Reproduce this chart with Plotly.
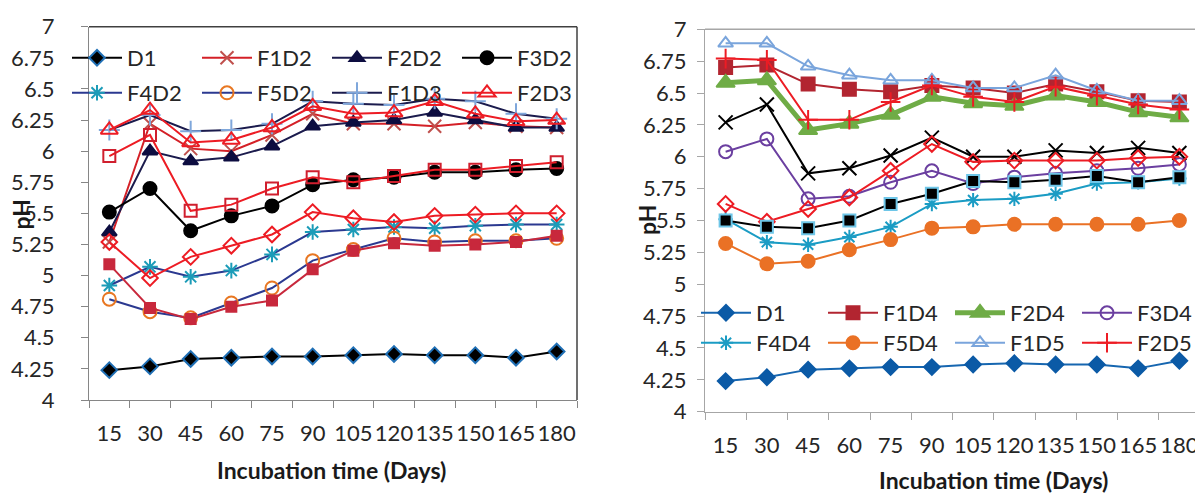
import plotly.graph_objects as go

# ---------------- data ----------------
days = ["15", "30", "45", "60", "75", "90", "105", "120", "135", "150", "165", "180"]
y_tick_vals = [4, 4.25, 4.5, 4.75, 5, 5.25, 5.5, 5.75, 6, 6.25, 6.5, 6.75, 7]
y_tick_text = ["4", "4.25", "4.5", "4.75", "5", "5.25", "5.5", "5.75", "6", "6.25", "6.5", "6.75", "7"]

# left panel (D1, D2, D3)
L_D1 = [4.24, 4.27, 4.33, 4.34, 4.35, 4.35, 4.36, 4.37, 4.36, 4.36, 4.34, 4.39]
L_F1D2 = [5.27, 6.22, 6.02, 6.00, 6.13, 6.30, 6.22, 6.22, 6.20, 6.23, 6.20, 6.19]
L_F2D2 = [5.35, 6.00, 5.92, 5.95, 6.04, 6.20, 6.23, 6.25, 6.31, 6.25, 6.19, 6.19]
L_F3D2 = [5.51, 5.70, 5.36, 5.48, 5.56, 5.73, 5.77, 5.79, 5.83, 5.83, 5.85, 5.86]
L_F4D2 = [4.92, 5.07, 4.99, 5.04, 5.17, 5.35, 5.37, 5.39, 5.38, 5.40, 5.41, 5.41]
L_F5D2 = [4.81, 4.71, 4.66, 4.78, 4.90, 5.12, 5.21, 5.30, 5.27, 5.28, 5.28, 5.30]
L_F1D3 = [6.17, 6.29, 6.16, 6.17, 6.22, 6.40, 6.38, 6.37, 6.42, 6.40, 6.30, 6.26]
L_F2D3 = [6.17, 6.33, 6.07, 6.09, 6.19, 6.36, 6.30, 6.31, 6.40, 6.30, 6.24, 6.25]
L_F3D3 = [5.96, 6.13, 5.52, 5.57, 5.70, 5.79, 5.75, 5.80, 5.85, 5.85, 5.88, 5.91]
L_F4D3 = [5.27, 4.98, 5.15, 5.24, 5.33, 5.51, 5.46, 5.43, 5.48, 5.49, 5.50, 5.50]
L_F5D3 = [5.09, 4.74, 4.65, 4.75, 4.80, 5.05, 5.20, 5.26, 5.24, 5.25, 5.27, 5.32]

# right panel (D1, D4, D5)
R_D1 = [4.24, 4.27, 4.33, 4.34, 4.35, 4.35, 4.37, 4.38, 4.37, 4.37, 4.34, 4.40]
R_F1D4 = [6.70, 6.72, 6.57, 6.53, 6.51, 6.56, 6.54, 6.50, 6.57, 6.51, 6.44, 6.43]
R_F2D4 = [6.58, 6.60, 6.21, 6.26, 6.33, 6.47, 6.42, 6.40, 6.48, 6.43, 6.35, 6.31]
R_F3D4 = [6.04, 6.14, 5.67, 5.69, 5.80, 5.89, 5.79, 5.84, 5.87, 5.89, 5.91, 5.94]
R_F4D4 = [5.51, 5.33, 5.31, 5.37, 5.45, 5.63, 5.66, 5.67, 5.71, 5.79, 5.80, 5.83]
R_F5D4 = [5.32, 5.16, 5.18, 5.27, 5.35, 5.44, 5.45, 5.47, 5.47, 5.47, 5.47, 5.50]
R_F1D5 = [6.89, 6.89, 6.71, 6.64, 6.60, 6.60, 6.54, 6.54, 6.64, 6.52, 6.44, 6.44]
R_F2D5 = [6.77, 6.76, 6.29, 6.29, 6.43, 6.56, 6.47, 6.43, 6.55, 6.48, 6.41, 6.37]
R_F3D5 = [6.27, 6.41, 5.87, 5.91, 6.01, 6.15, 6.00, 6.00, 6.05, 6.03, 6.07, 6.03]
R_F4D5 = [5.63, 5.49, 5.59, 5.68, 5.89, 6.10, 5.96, 5.97, 5.97, 5.97, 5.99, 6.00]
R_F5D5 = [5.50, 5.45, 5.44, 5.50, 5.63, 5.71, 5.81, 5.80, 5.82, 5.85, 5.80, 5.84]

FONT = "Lato"
fig = go.Figure()


def add(name, y, xa, ya, legend, show, lcolor, symbol, mcolor, msize,
        mline=None, lw=2, mlw=2):
    mk = dict(symbol=symbol, color=mcolor, size=msize,
              line=dict(color=mline if mline else mcolor, width=mlw))
    fig.add_trace(go.Scatter(
        x=days, y=y, name=name, mode="lines+markers",
        xaxis=xa, yaxis=ya, legend=legend, showlegend=show,
        line=dict(color=lcolor, width=lw), marker=mk))


# left panel traces
add("D1", L_D1, "x", "y", "legend", True, "#000000", "diamond", "#000000", 12, "#1F6FB5")
add("F1D2", L_F1D2, "x", "y", "legend", True, "#D42027", "x-thin-open", "#C0504D", 13)
add("F2D2", L_F2D2, "x", "y", "legend", True, "#1B1B4D", "triangle-up", "#0D0D40", 13)
add("F3D2", L_F3D2, "x", "y", "legend", True, "#000000", "circle", "#000000", 13)
add("F4D2", L_F4D2, "x", "y", "legend2", True, "#2B3990", "asterisk-open", "#1C9CB8", 13)
add("F5D2", L_F5D2, "x", "y", "legend2", True, "#2B3990", "circle-open", "#E87722", 13)
add("F1D3", L_F1D3, "x", "y", "legend2", True, "#1B1B4D", "cross-thin-open", "#7FA7DB", 15)
add("F2D3", L_F2D3, "x", "y", "legend2", True, "#ED1C24", "triangle-up-open", "#ED1C24", 15)
add("F3D3", L_F3D3, "x", "y", "legend", False, "#ED1C24", "square-open", "#D01F2E", 12)
add("F4D3", L_F4D3, "x", "y", "legend", False, "#ED1C24", "diamond-open", "#ED1C24", 12)
add("F5D3", L_F5D3, "x", "y", "legend", False, "#C8283C", "square", "#C8283C", 10)

# right panel traces
add("D1", R_D1, "x2", "y2", "legend3", True, "#1666B0", "diamond", "#0B5AA6", 12)
add("F1D4", R_F1D4, "x2", "y2", "legend3", True, "#B22530", "square", "#B22530", 13)
add("F2D4", R_F2D4, "x2", "y2", "legend3", True, "#6FAC46", "triangle-up", "#6FAC46", 16, lw=5)
add("F3D4", R_F3D4, "x2", "y2", "legend3", True, "#6B3FA0", "circle-open", "#6B3FA0", 13)
add("F4D4", R_F4D4, "x2", "y2", "legend4", True, "#1B9CC4", "asterisk-open", "#1B9CC4", 12)
add("F5D4", R_F5D4, "x2", "y2", "legend4", True, "#EA7125", "circle", "#EA7125", 13)
add("F1D5", R_F1D5, "x2", "y2", "legend4", True, "#7AA5DC", "triangle-up-open", "#7AA5DC", 13)
add("F2D5", R_F2D5, "x2", "y2", "legend4", True, "#ED1C24", "cross-thin-open", "#ED1C24", 14)
add("F3D5", R_F3D5, "x2", "y2", "legend3", False, "#000000", "x-thin-open", "#000000", 14)
add("F4D5", R_F4D5, "x2", "y2", "legend3", False, "#ED1C24", "diamond-open", "#ED1C24", 12)
add("F5D5", R_F5D5, "x2", "y2", "legend3", False, "#000000", "square", "#000000", 12, "#6EC6E8")

# the page body has an 8px margin: size the figure so it fits the window
OFF = 8
W, H = 1203 - OFF, 495 - OFF


def px(v):
    """screen x pixel -> figure fraction"""
    return (v - OFF) / W


def py(v):
    """screen y pixel -> figure fraction (from bottom)"""
    return 1 - (v - OFF) / H


tickfont = dict(family=FONT, size=22, color="#262626")
xcommon = dict(type="category", tickson="boundaries", ticks="outside", ticklen=7,
               showline=True, linewidth=1, showgrid=False, zeroline=False,
               tickfont=tickfont, range=[-0.5, 11.5], tickangle=0,
               automargin=False)
ycommon = dict(range=[4, 7], tickvals=y_tick_vals, ticktext=y_tick_text,
               ticks="outside", ticklen=7, showline=True, linewidth=1,
               showgrid=False, zeroline=False, tickfont=tickfont, automargin=False)

legcommon = dict(orientation="h", xanchor="left", yanchor="top",
                 xref="container", yref="container",
                 bgcolor="rgba(0,0,0,0)", font=dict(family=FONT, size=22, color="#262626"),
                 entrywidthmode="pixels", itemwidth=50,
                 traceorder="normal", tracegroupgap=0)

fig.update_layout(
    width=W, height=H, margin=dict(l=0, r=0, t=0, b=0, autoexpand=False),
    paper_bgcolor="white", plot_bgcolor="white",
    font=dict(family=FONT),
    xaxis=dict(domain=[px(89), px(577)], anchor="y", linecolor="#868686",
               tickcolor="#868686", ticklabelstandoff=14, **xcommon),
    yaxis=dict(domain=[py(400), py(26.7)], anchor="x", linecolor="#868686",
               tickcolor="#868686", ticklabelstandoff=22, **ycommon),
    xaxis2=dict(domain=[px(705), px(1200)], anchor="y2", linecolor="#A6A6A6",
                tickcolor="#A6A6A6", ticklabelstandoff=14, **xcommon),
    yaxis2=dict(domain=[py(411.7), py(29.3)], anchor="x2", linecolor="#A6A6A6",
                tickcolor="#A6A6A6", ticklabelstandoff=6, **ycommon),
    legend=dict(x=px(67), y=py(37), entrywidth=65, **legcommon),
    legend2=dict(x=px(67), y=py(72), entrywidth=65, **legcommon),
    legend3=dict(x=px(696), y=py(292), entrywidth=62, **legcommon),
    legend4=dict(x=px(696), y=py(322), entrywidth=62, **legcommon),
    showlegend=True,
)

# plot-area borders (top and right)
for xr, yr, col in [("x domain", "y domain", "#404040"), ("x2 domain", "y2 domain", "#A6A6A6")]:
    fig.add_shape(type="line", xref=xr, yref=yr, x0=0, x1=1, y0=1, y1=1,
                  line=dict(color=col, width=1.5))
    fig.add_shape(type="line", xref=xr, yref=yr, x0=1, x1=1, y0=0, y1=1,
                  line=dict(color=col, width=1.5))

title_font = dict(family=FONT, size=23, color="#1a1a1a")
ann = dict(xref="paper", yref="paper", showarrow=False, font=title_font,
           xanchor="center", yanchor="middle")
fig.add_annotation(text="<b>Incubation time (Days)</b>", x=px(332), y=py(470), **ann)
fig.add_annotation(text="<b>Incubation time (Days)</b>", x=px(993), y=py(480), **ann)
fig.add_annotation(text="<b>pH</b>", textangle=-90, x=px(20.5), y=py(215), **ann)
fig.add_annotation(text="<b>pH</b>", textangle=-90, x=px(647), y=py(220), **ann)

fig.write_html("out.html")
